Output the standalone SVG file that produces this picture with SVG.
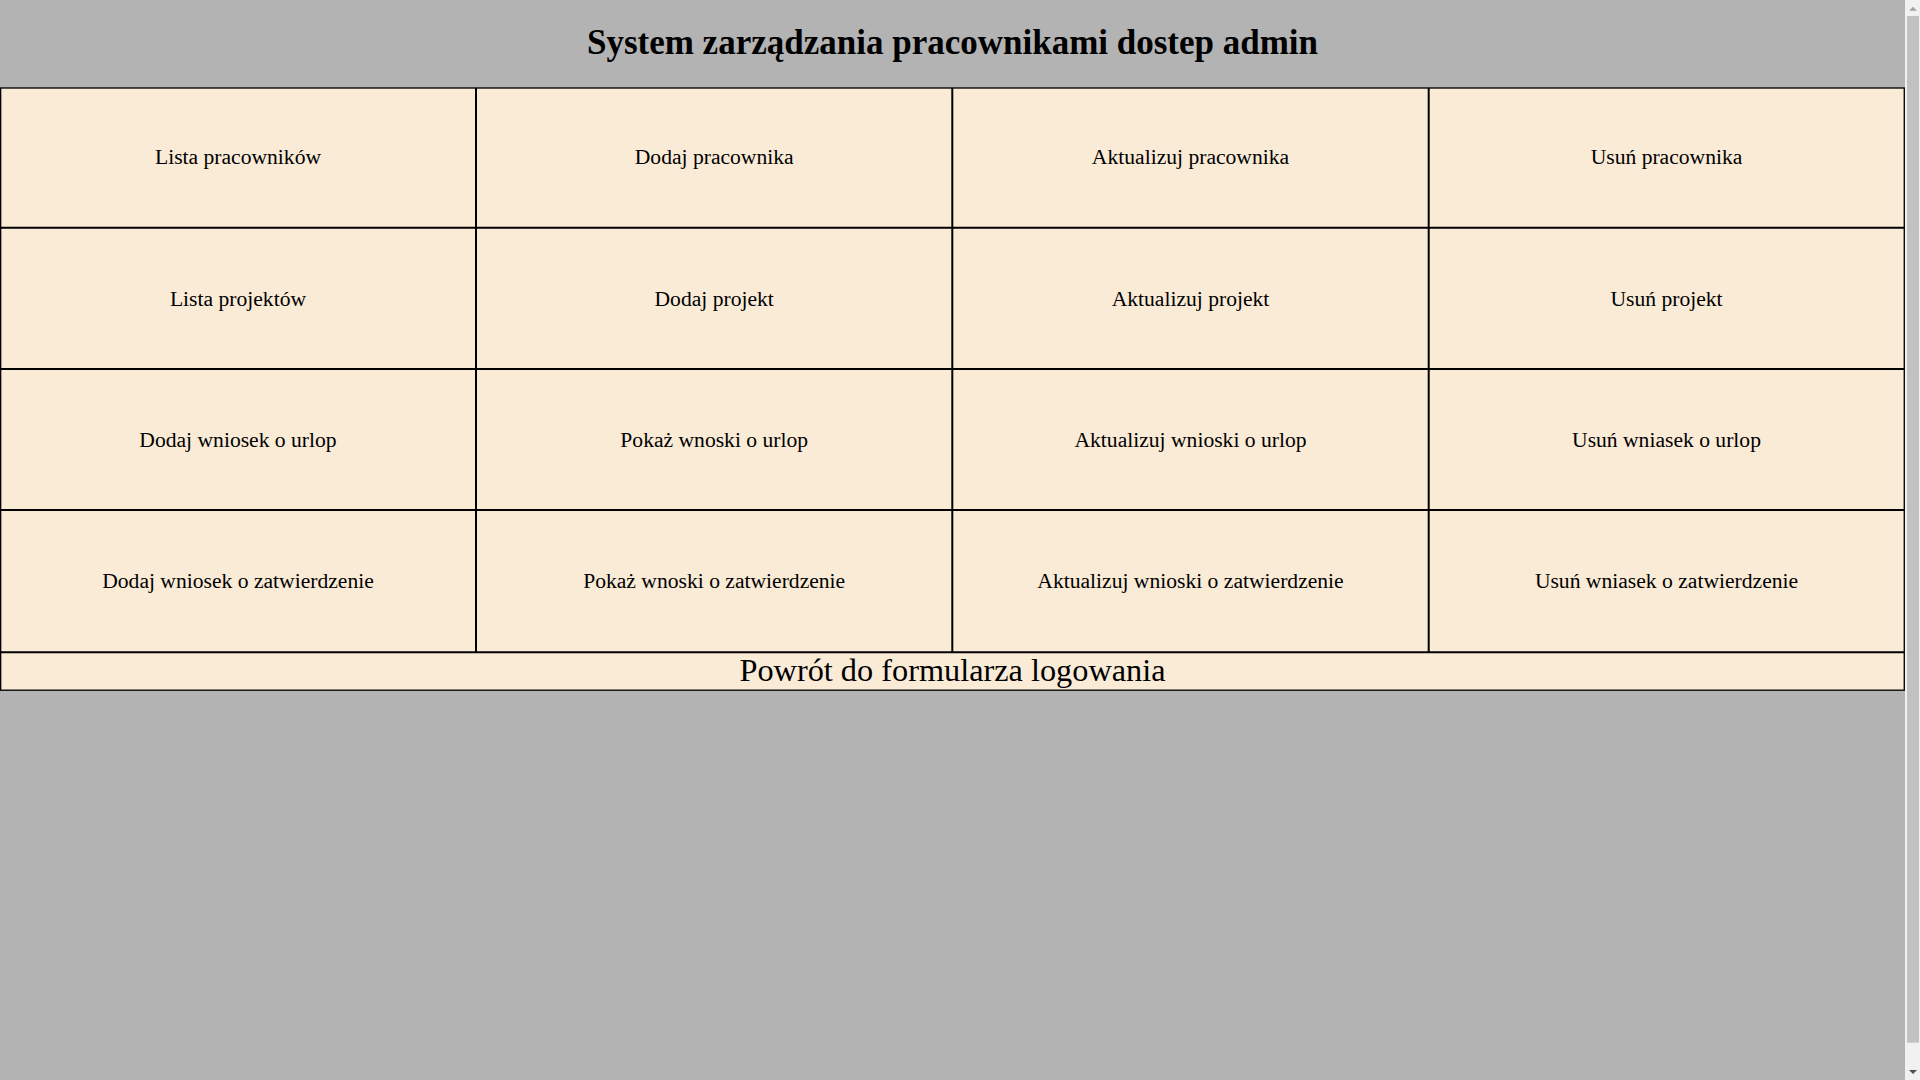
<svg xmlns="http://www.w3.org/2000/svg" width="1920" height="1080" viewBox="0 0 1920 1080">
<style>
.bg{fill:#b3b3b3}
.cell{font-family:"Liberation Serif","Times New Roman",serif;font-size:21.6px;fill:#000;text-anchor:middle}
.title{font-family:"Liberation Serif","Times New Roman",serif;font-size:35px;font-weight:bold;fill:#000;text-anchor:middle}
.back{font-family:"Liberation Serif","Times New Roman",serif;font-size:32.3px;fill:#000;text-anchor:middle}
.grid{stroke:#000;stroke-width:2;fill:none}
</style>
<rect class="bg" x="0" y="0" width="1920" height="1080"/>
<g id="title"><text class="title" x="952.5" y="54">System zarządzania pracownikami dostep admin</text></g>
<g id="table">
<rect x="0.67" y="88" width="1903.6" height="602.2" fill="#faebd7" stroke="#000" stroke-width="1.33"/>
<path class="grid" d="M0 227.7H1904.5M0 368.9H1904.5M0 510.1H1904.5M0 652.3H1904.5M476 88V652.3M952.3 88V652.3M1428.7 88V652.3"/>
</g>
<g id="n-lista-pracownikow"><text class="cell" x="238" y="164.3">Lista pracowników</text></g>
<g id="n-dodaj-pracownika"><text class="cell" x="714.2" y="164.3">Dodaj pracownika</text></g>
<g id="n-aktualizuj-pracownika"><text class="cell" x="1190.5" y="164.3">Aktualizuj pracownika</text></g>
<g id="n-usun-pracownika"><text class="cell" x="1666.5" y="164.3">Usuń pracownika</text></g>
<g id="n-lista-projektow"><text class="cell" x="238" y="305.5">Lista projektów</text></g>
<g id="n-dodaj-projekt"><text class="cell" x="714.2" y="305.5">Dodaj projekt</text></g>
<g id="n-aktualizuj-projekt"><text class="cell" x="1190.5" y="305.5">Aktualizuj projekt</text></g>
<g id="n-usun-projekt"><text class="cell" x="1666.5" y="305.5">Usuń projekt</text></g>
<g id="n-dodaj-urlop"><text class="cell" x="238" y="446.7">Dodaj wniosek o urlop</text></g>
<g id="n-pokaz-urlop"><text class="cell" x="714.2" y="446.7">Pokaż wnoski o urlop</text></g>
<g id="n-aktualizuj-urlop"><text class="cell" x="1190.5" y="446.7">Aktualizuj wnioski o urlop</text></g>
<g id="n-usun-urlop"><text class="cell" x="1666.5" y="446.7">Usuń wniasek o urlop</text></g>
<g id="n-dodaj-zatw"><text class="cell" x="238" y="587.9">Dodaj wniosek o zatwierdzenie</text></g>
<g id="n-pokaz-zatw"><text class="cell" x="714.2" y="587.9">Pokaż wnoski o zatwierdzenie</text></g>
<g id="n-aktualizuj-zatw"><text class="cell" x="1190.5" y="587.9">Aktualizuj wnioski o zatwierdzenie</text></g>
<g id="n-usun-zatw"><text class="cell" x="1666.5" y="587.9">Usuń wniasek o zatwierdzenie</text></g>
<g id="n-powrot"><text class="back" x="952.5" y="681">Powrót do formularza logowania</text></g>
<g id="scrollbar">
<rect x="1905" y="0" width="15" height="1080" fill="#f1f1f1"/>
<rect x="1907" y="16" width="12" height="1026.7" fill="#c1c1c1"/>
<polygon points="1909,10.7 1917,10.7 1913,6.7" fill="#a3a3a3"/>
<polygon points="1909,1070 1917,1070 1913,1074" fill="#505050"/>
</g>
</svg>
